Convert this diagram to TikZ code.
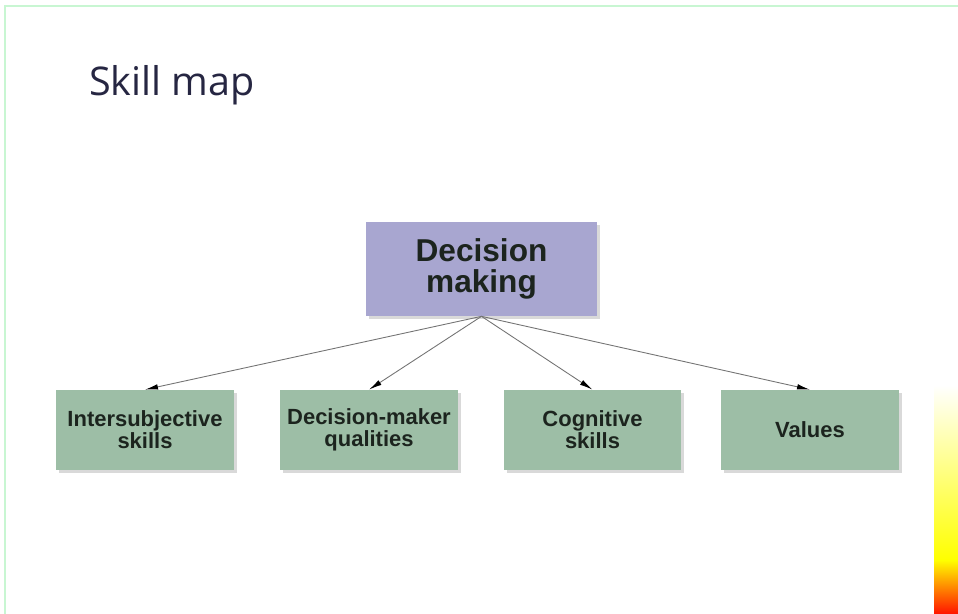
\documentclass[tikz,border=0pt]{standalone}
\usepackage{fontspec}
\setmainfont{Liberation Sans}
\newfontfamily\titlefont{Open Sans}
\usepackage{tikz}
\usetikzlibrary{positioning,arrows.meta,shadows}

\definecolor{frameGreen}{RGB}{200,246,210}
\definecolor{titleBlue}{RGB}{38,38,66}
\definecolor{rootFill}{RGB}{168,166,208}
\definecolor{leafFill}{RGB}{157,190,166}
\definecolor{boxText}{RGB}{28,36,30}

\begin{document}
\begin{tikzpicture}[x=0.02cm,y=-0.02cm,
    rootbox/.style={rectangle,fill=rootFill,minimum width=4.62cm,minimum height=1.88cm,
        align=center,text=boxText,font=\fontsize{18}{18}\selectfont\bfseries,
        drop shadow={shadow xshift=1.6pt,shadow yshift=-1.6pt,opacity=0.3}},
    leafbox/.style={rectangle,fill=leafFill,minimum width=3.55cm,minimum height=1.6cm,
        align=center,text=boxText,font=\fontsize{12.5}{12.5}\selectfont\bfseries,
        drop shadow={shadow xshift=1.6pt,shadow yshift=-1.6pt,opacity=0.3}},
    link/.style={draw=black!55,line width=0.5pt,-{Latex[length=2.6mm,width=1.1mm,color=black]}}]
    \useasboundingbox (0,0) rectangle (958,614);

    % frame and colour strip
    \draw[frameGreen,line width=1.2pt] (5,614) -- (5,6) -- (958,6);
    \shade[top color=white,bottom color=yellow] (934,385) rectangle (958,560);
    \shade[top color=yellow,bottom color=red!85!orange] (934,560) rectangle (958,614);

    \node[anchor=base west,text=titleBlue,font=\titlefont\fontsize{22.5}{26}\selectfont] (title) at (83,96) {Skill map};

    \node[rootbox] (decision) at (481.5,269) {Decision\\making};
    \node[leafbox] (intersubjective) at (145,430) {Intersubjective\\skills};
    \node[leafbox] (qualities) at (369,430) {Decision-maker\\qualities};
    \node[leafbox] (cognitive) at (592.5,430) {Cognitive\\skills};
    \node[leafbox] (values) at (810,430) {Values};

\draw[link] (decision.south) -- (intersubjective.north);
\draw[link] (decision.south) -- (qualities.north);
\draw[link] (decision.south) -- (cognitive.north);
\draw[link] (decision.south) -- (values.north);

\end{tikzpicture}
\end{document}
